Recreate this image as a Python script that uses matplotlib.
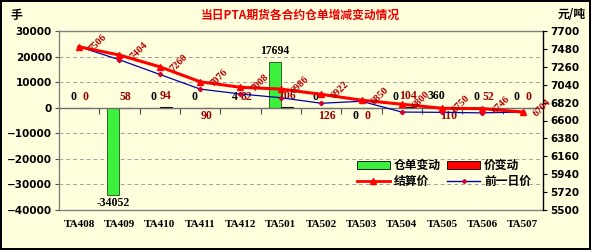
import numpy as np
import matplotlib
matplotlib.use("Agg")
import matplotlib.pyplot as plt
from matplotlib.patches import Patch
from matplotlib.lines import Line2D

categories = ["TA408", "TA409", "TA410", "TA411", "TA412", "TA501",
              "TA502", "TA503", "TA504", "TA505", "TA506", "TA507"]
receipt_change = [0, -34052, 0, 0, 4, 17694, 0, -0.0, 0, 360, 0, 0]
price_change = [0, 58, 94, -90, 82, 106, -126, -0.0, 104, -110, 52, 0]
settle_price = [7506, 7404, 7260, 7076, 7008, 6986, 6922, 6850, 6800, 6750, 6746, 6704]
prev_price = [7506, 7346, 7166, 6986, 6926, 6880, 6812, 6836, 6704, 6700, 6694, 6704]

title = "当日PTA期货各合约仓单增减变动情况"
bg = "#FFFFDD"
cjk = ["Noto Sans CJK SC", "DejaVu Sans"]
serif = "Liberation Serif"

fig = plt.figure(figsize=(5.91, 2.5), dpi=100, facecolor=bg)
fig.patch.set_edgecolor("black")
fig.patch.set_linewidth(1.5)
ax = fig.add_axes([59 / 591, 1 - 210 / 250, (543 - 59) / 591, (210 - 31) / 250])
ax.set_facecolor(bg)

x = np.arange(len(categories))
w = 0.3
ax.bar(x - w / 2, receipt_change, width=w, color="#3CF03C", edgecolor="#1f4f1f", linewidth=0.6, zorder=3)
ax.bar(x + w / 2, price_change, width=w, color="#FF0000", edgecolor="black", linewidth=0.8, zorder=3)

ax.set_xlim(-0.5, len(categories) - 0.5)
ax.set_ylim(-40000, 30000)
ax.set_yticks(np.arange(-40000, 30001, 10000))
ax.yaxis.set_major_formatter(matplotlib.ticker.FuncFormatter(lambda v, p: f"{int(v)}".replace("-", "\u2212")))
for yv in np.arange(-30000, 30000, 10000):
    if yv != 0:
        ax.axhline(yv, color="#A0A0A0", lw=0.7, ls=(0, (4, 3)), zorder=1)
ax.axhline(0, color="#707070", lw=1.0, zorder=4)
ax.vlines(x[:-1] + 0.5, -2600, 0, color="#505050", lw=0.8, zorder=4)

ax.set_xticks(x)
ax.set_xticklabels(categories, fontfamily=serif, fontweight="bold", fontsize=8)
ax.tick_params(axis="x", length=0, pad=7)
ax.tick_params(axis="y", labelsize=7.5, length=3, width=0.8, color="#505050", pad=2)
for lbl in ax.get_yticklabels():
    lbl.set_fontweight("bold")
for s in ["left", "bottom", "top"]:
    ax.spines[s].set_color("#808080")
    ax.spines[s].set_linewidth(1.0)
ax.spines["right"].set_visible(False)

# bar labels
for xi, v in zip(x, receipt_change):
    below = np.signbit(v) or v < 0
    ax.annotate(f"{int(v)}", (xi - w / 2, v), xytext=(0, -2 if below else 5),
                textcoords="offset pixels", ha="center", va="top" if below else "bottom",
                fontsize=8.5, fontweight="bold", fontfamily=serif, color="black", zorder=6)
for xi, v in zip(x, price_change):
    below = np.signbit(v) or v < 0
    ax.annotate(f"{abs(int(v))}", (xi + w / 2, v), xytext=(0, -2 if below else 5),
                textcoords="offset pixels", ha="center", va="top" if below else "bottom",
                fontsize=8.5, fontweight="bold", fontfamily=serif, color="#990000", zorder=6)

ax2 = ax.twinx()
ax2.set_ylim(5500, 7700)
ax2.set_yticks(np.arange(5500, 7701, 220))
ax2.plot(x, prev_price, color="#0000AA", lw=0.9, marker="D", ms=2.2,
         mfc="#CC0033", mec="#CC0033", zorder=5)
ax2.plot(x, settle_price, color="#FF0000", lw=2.2, marker="^", ms=5,
         mfc="#FF0000", mec="#FF0000", zorder=6)
for xi, v in zip(x, settle_price):
    ax2.annotate(f"{v}", (xi, v), xytext=(19, 4), textcoords="offset pixels",
                 ha="center", va="center", rotation=45, fontsize=7.5,
                 fontweight="bold", fontfamily=serif, color="#B00000", zorder=7)
ax2.tick_params(axis="y", labelsize=7.5, length=3, width=0.8, color="black", pad=2)
for lbl in ax2.get_yticklabels():
    lbl.set_fontweight("bold")
for s in ["left", "bottom", "top"]:
    ax2.spines[s].set_visible(False)
ax2.spines["right"].set_color("black")
ax2.spines["right"].set_linewidth(1.0)

handles = [Patch(facecolor="#3CF03C", edgecolor="black", lw=0.6),
           Line2D([], [], color="#FF0000", lw=2, marker="^", ms=4),
           Patch(facecolor="#FF0000", edgecolor="black", lw=0.6),
           Line2D([], [], color="#0000AA", lw=1, marker="D", ms=2, mfc="#CC0033", mec="#CC0033")]
labels = ["仓单变动", "结算价", "价变动", "前一日价"]
leg = ax2.legend(handles, labels, ncol=2, loc="lower left",
                 bbox_to_anchor=((352 - 59) / 484, (210 - 193) / 179),
                 frameon=False, prop={"family": cjk, "weight": "bold", "size": 8.5},
                 handlelength=2.8, handleheight=0.7, columnspacing=0.6,
                 handletextpad=0.3, labelspacing=0.25, borderaxespad=0)

fig.text(300 / 591, 1 - 15 / 250, title, ha="center", va="center", color="#EE0000",
         fontsize=8.5, fontweight="bold", fontfamily=cjk)
fig.text(16 / 591, 1 - 15 / 250, "手", ha="center", va="center",
         fontsize=8.5, fontweight="bold", fontfamily=cjk)
fig.text(572 / 591, 1 - 15 / 250, "元/吨", ha="center", va="center",
         fontsize=8.5, fontweight="bold", fontfamily=cjk)

fig.savefig("out.png", dpi=100, facecolor=bg, edgecolor="black")
